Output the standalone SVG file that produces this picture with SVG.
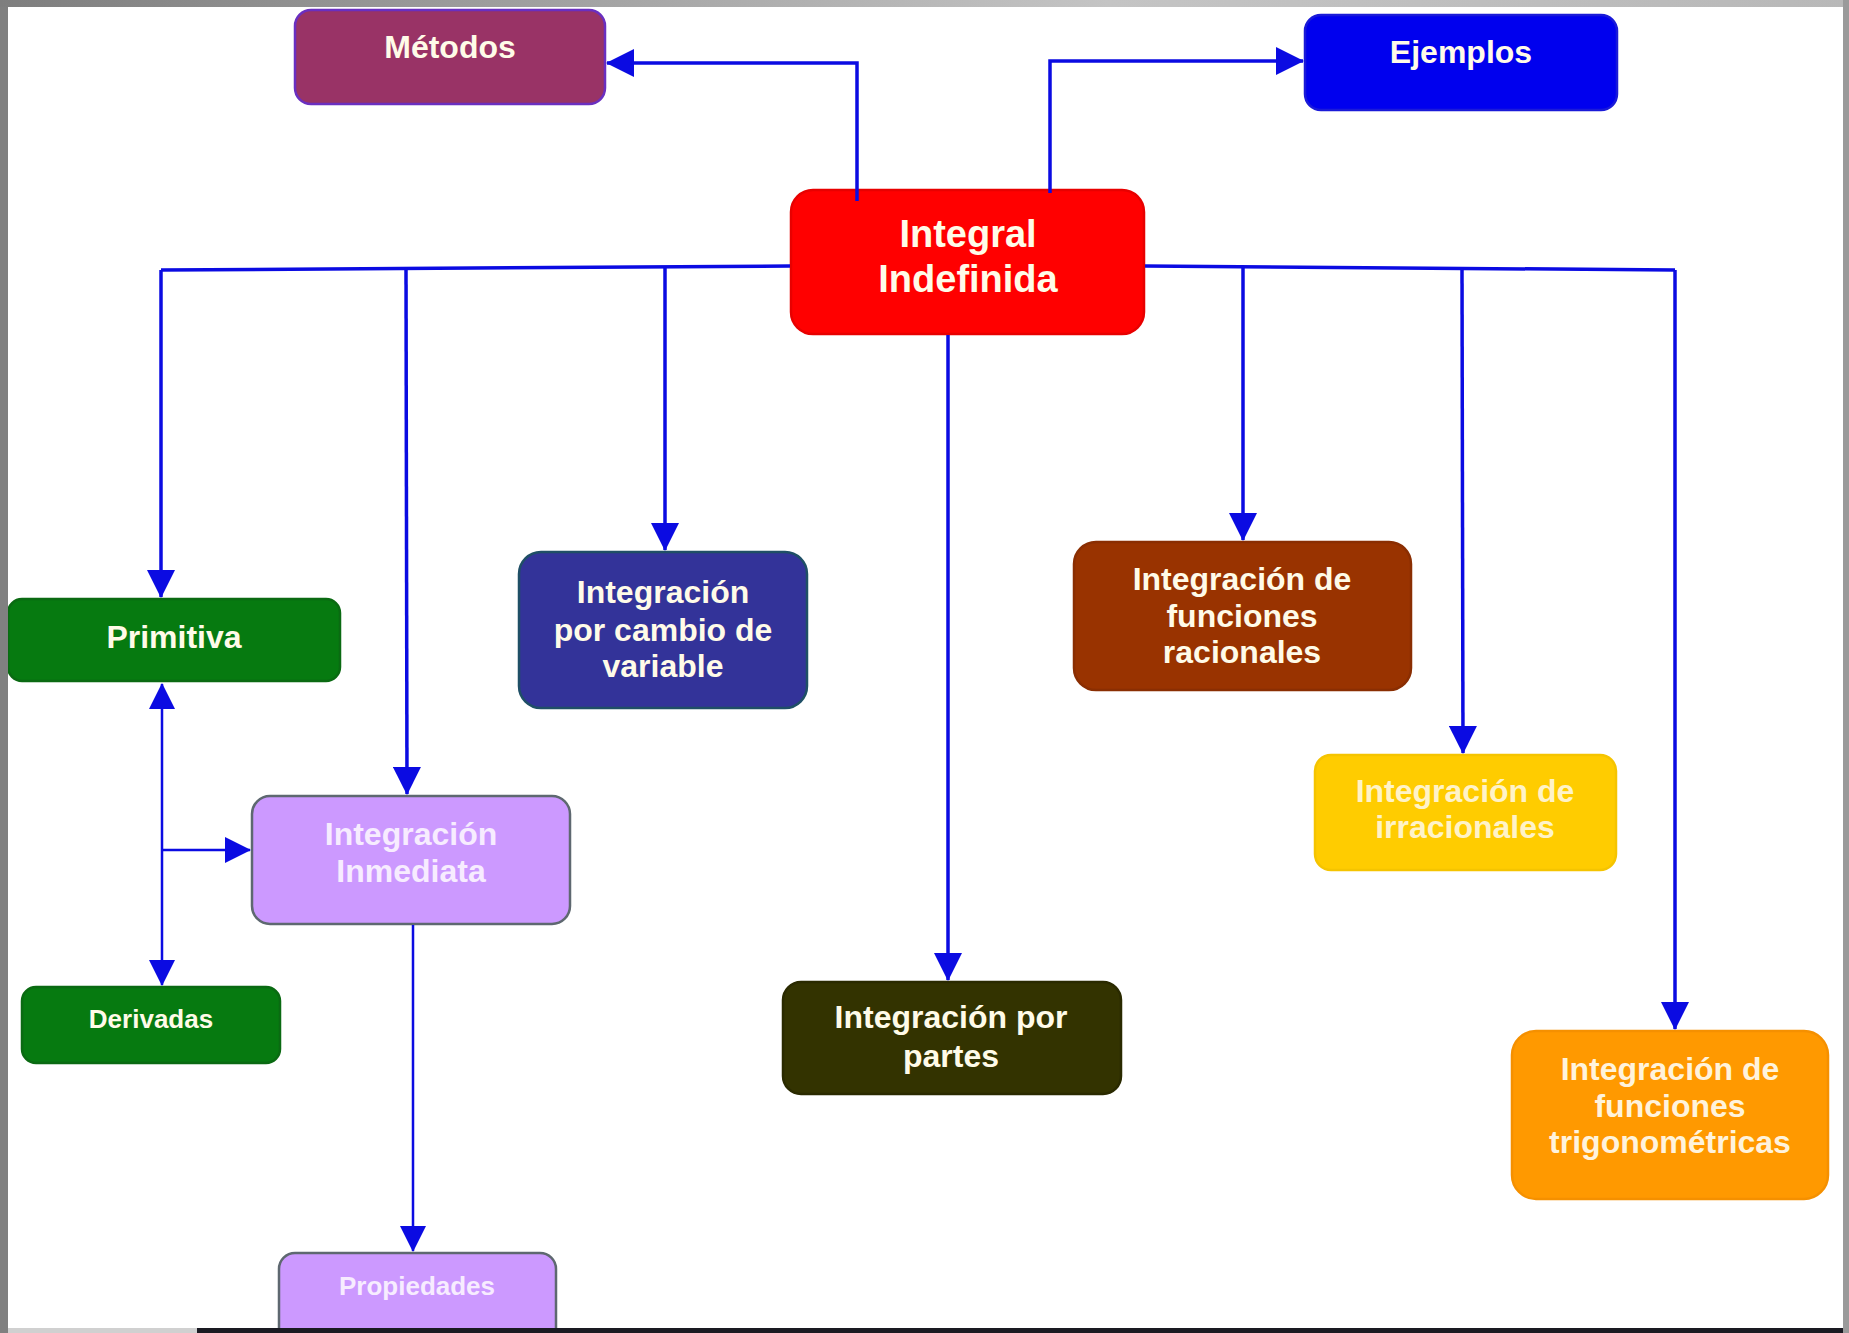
<svg xmlns="http://www.w3.org/2000/svg" width="1849" height="1333" viewBox="0 0 1849 1333">
<defs>
<linearGradient id="topbar" x1="0" y1="0" x2="1" y2="0">
<stop offset="0" stop-color="#7e7e7e"/>
<stop offset="0.6" stop-color="#c4c4c4"/>
<stop offset="1" stop-color="#b8b8b8"/>
</linearGradient>
<marker id="arr" viewBox="0 0 28 28" refX="27" refY="14" markerWidth="28" markerHeight="28" markerUnits="userSpaceOnUse" orient="auto">
<path d="M0,0 L28,14 L0,28 z" fill="#0b0be2"/>
</marker>
<marker id="arrS" viewBox="0 0 26 26" refX="25" refY="13" markerWidth="26" markerHeight="26" markerUnits="userSpaceOnUse" orient="auto-start-reverse">
<path d="M0,0 L26,13 L0,26 z" fill="#0b0be2"/>
</marker>
</defs>
<style>
.box{stroke-width:2.5}
.t{font-family:"Liberation Sans",Arial,sans-serif;font-weight:bold;text-anchor:middle;fill:#fffbe8}
.t32{font-size:32px}
.t26{font-size:26px}
.c{fill:none;stroke:#0b0be2;stroke-width:3.5}
.cs{fill:none;stroke:#0b0be2;stroke-width:2.5}
</style>
<rect x="0" y="0" width="1849" height="1333" fill="#8a8a8a"/>
<rect x="0" y="0" width="1849" height="7" fill="url(#topbar)"/>
<rect x="8" y="7" width="1835" height="1321" fill="#ffffff"/>
<g id="metodos">
<rect class="box" x="295" y="10" width="310" height="94" rx="16" fill="#993366" stroke="#6a2fc0"/>
<text class="t t32" x="450" y="58">Métodos</text>
</g>
<g id="ejemplos">
<rect class="box" x="1305" y="15" width="312" height="95" rx="16" fill="#0000ee" stroke="#1a1ad8"/>
<text class="t t32" x="1461" y="63">Ejemplos</text>
</g>
<g id="integral">
<rect class="box" x="791" y="190" width="353" height="144" rx="22" fill="#ff0000" stroke="#e80000"/>
<text class="t" style="font-size:38px" x="968" y="247">Integral</text>
<text class="t" style="font-size:38px" x="968" y="292">Indefinida</text>
</g>
<g id="primitiva">
<rect class="box" x="8" y="599" width="332" height="82" rx="14" fill="#067a10" stroke="#0a6a12"/>
<text class="t t32" x="174" y="648">Primitiva</text>
</g>
<g id="cambio">
<rect class="box" x="519" y="552" width="288" height="156" rx="22" fill="#333399" stroke="#1f4f66"/>
<text class="t t32" x="663" y="603">Integración</text>
<text class="t t32" x="663" y="641">por cambio de</text>
<text class="t t32" x="663" y="677">variable</text>
</g>
<g id="racionales">
<rect class="box" x="1074" y="542" width="337" height="148" rx="22" fill="#993300" stroke="#8a2e02"/>
<text class="t t32" x="1242" y="590">Integración de</text>
<text class="t t32" x="1242" y="627">funciones</text>
<text class="t t32" x="1242" y="663">racionales</text>
</g>
<g id="irracionales">
<rect class="box" x="1315" y="755" width="301" height="115" rx="16" fill="#ffcc00" stroke="#f5c400"/>
<text class="t t32" x="1465" y="802" style="fill:#fff3c8">Integración de</text>
<text class="t t32" x="1465" y="838" style="fill:#fff3c8">irracionales</text>
</g>
<g id="inmediata">
<rect class="box" x="252" y="796" width="318" height="128" rx="18" fill="#cc99ff" stroke="#5e6870"/>
<text class="t t32" x="411" y="845" style="fill:#f7ecff">Integración</text>
<text class="t t32" x="411" y="882" style="fill:#f7ecff">Inmediata</text>
</g>
<g id="derivadas">
<rect class="box" x="22" y="987" width="258" height="76" rx="14" fill="#067a10" stroke="#0a6a12"/>
<text class="t t26" x="151" y="1028">Derivadas</text>
</g>
<g id="partes">
<rect class="box" x="783" y="982" width="338" height="112" rx="18" fill="#333300" stroke="#2a2a00"/>
<text class="t t32" x="951" y="1028">Integración por</text>
<text class="t t32" x="951" y="1067">partes</text>
</g>
<g id="trigonometricas">
<rect class="box" x="1512" y="1031" width="316" height="168" rx="24" fill="#ff9900" stroke="#f59000"/>
<text class="t t32" x="1670" y="1080" style="fill:#fff3dc">Integración de</text>
<text class="t t32" x="1670" y="1117" style="fill:#fff3dc">funciones</text>
<text class="t t32" x="1670" y="1153" style="fill:#fff3dc">trigonométricas</text>
</g>
<g id="propiedades">
<rect class="box" x="279" y="1253" width="277" height="100" rx="16" fill="#cc99ff" stroke="#5e6870"/>
<text class="t t26" x="417" y="1295" style="fill:#f7ecff">Propiedades</text>
</g>
<g id="connectors">
<path class="c" d="M857,201 L857,63 L607,63" marker-end="url(#arr)"/>
<path class="c" d="M1050,193 L1050,61 L1303,61" marker-end="url(#arr)"/>
<path class="c" d="M790,266 L161,270"/>
<path class="c" d="M1145,266 L1675,270"/>
<path class="c" d="M161,270 L161,597" marker-end="url(#arr)"/>
<path class="c" d="M406,268 L407,794" marker-end="url(#arr)"/>
<path class="c" d="M665,267 L665,550" marker-end="url(#arr)"/>
<path class="c" d="M948,335 L948,980" marker-end="url(#arr)"/>
<path class="c" d="M1243,267 L1243,540" marker-end="url(#arr)"/>
<path class="c" d="M1462,268 L1463,753" marker-end="url(#arr)"/>
<path class="c" d="M1675,270 L1675,1029" marker-end="url(#arr)"/>
<path class="cs" d="M162,684 L162,985" marker-start="url(#arrS)" marker-end="url(#arrS)"/>
<path class="cs" d="M162,850 L250,850" marker-end="url(#arrS)"/>
<path class="cs" d="M413,925 L413,1251" marker-end="url(#arrS)"/>
</g>
<rect x="0" y="7" width="8" height="1326" fill="#808080"/>
<rect x="1843" y="0" width="6" height="1333" fill="#9a9a9a"/>
<rect x="8" y="1328" width="189" height="5" fill="#d0d0d0"/>
<rect x="197" y="1328" width="1646" height="5" fill="#1a1a22"/>
</svg>
